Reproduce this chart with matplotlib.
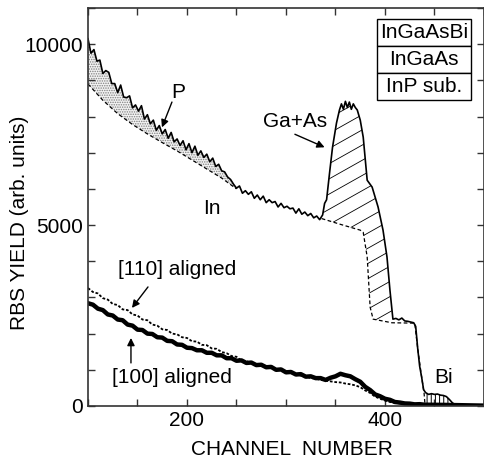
import numpy as np
import matplotlib
matplotlib.use("Agg")
import matplotlib.pyplot as plt
from matplotlib.ticker import MultipleLocator

plt.rcParams['font.family'] = ['Liberation Sans', 'DejaVu Sans']
plt.rcParams['hatch.linewidth'] = 0.7

# random spectrum (InGaAsBi / InGaAs / InP)
rand_ch = list(range(100, 338, 3)) + [
    339, 341, 344, 347, 351, 354, 356, 358, 360, 362,
    364, 366, 368, 370, 372, 375, 378, 382, 387, 393,
    398, 402, 405, 408, 411, 414, 417, 420, 423, 426,
    429, 431, 433, 435, 437, 439, 441, 444, 447, 450,
    453, 456, 459, 462, 465, 468, 471, 475, 480, 490, 500]
rand_yield = [
    10150, 9750, 9850, 9530, 9560, 9190, 9270, 9220, 8910, 8910,
    8660, 8870, 8540, 8520, 8570, 8240, 8320, 8150, 8300, 7930,
    8050, 7800, 7900, 7620, 7750, 7520, 7640, 7400, 7560, 7300,
    7380, 7200, 7330, 7080, 7250, 7000, 7180, 6930, 7050, 6870,
    6960, 6750, 6850, 6620, 6680, 6500, 6470, 6330, 6260, 6130,
    6020, 6080, 5880, 5950, 5850, 5920, 5740, 5830, 5700, 5800,
    5620, 5700, 5620, 5650, 5500, 5600, 5480, 5520, 5450, 5470,
    5330, 5450, 5300, 5360, 5260, 5320, 5200, 5250, 5150, 5280,
    5600, 5700, 6440, 7150, 7820, 8180, 8350, 8200, 8420, 8250,
    8400, 8200, 8350, 8250, 8180, 7900, 7430, 6240, 6050, 5500,
    4860, 4120, 3200, 2400, 2420, 2380, 2430, 2350, 2340, 2320,
    2300, 2200, 1600, 1100, 800, 450, 370, 320, 340, 320,
    330, 300, 290, 260, 180, 90, 30, 15, 10, 5, 0]

# simulated InP substrate edge (dashed, below P signal)
inp_ch = [100, 115, 130, 145, 160, 175, 190, 205, 220, 235, 250]
inp_yield = [8900, 8450, 8080, 7780, 7520, 7280, 7050, 6800, 6550, 6300, 6000]

# simulated InGaAs (dashed, below Ga+As and Bi)
gaas_ch = [336, 355, 375, 378, 382, 385, 388, 407, 430, 433, 437, 439.5, 440.5]
gaas_yield = [5180, 5020, 4860, 4800, 4120, 2730, 2400, 2300, 2290, 1600, 800, 350, 0]

# channeling spectra
al_ch = list(range(100, 445, 5)) + [460, 480, 500]
al100_yield = [
    2840, 2800, 2690, 2650, 2530, 2500, 2390, 2370, 2250, 2220,
    2110, 2100, 2000, 1990, 1900, 1890, 1800, 1790, 1700, 1690,
    1610, 1600, 1540, 1540, 1470, 1470, 1400, 1400, 1320, 1320,
    1250, 1260, 1190, 1200, 1130, 1140, 1070, 1080, 1000, 1010,
    930, 940, 870, 880, 810, 820, 770, 770, 720, 780,
    820, 890, 850, 820, 740, 670, 530, 440, 320, 270,
    200, 170, 110, 95, 70, 65, 45, 50, 35, 30, 20, 10]
al110_yield = [
    3260, 3150, 3110, 2980, 2940, 2820, 2790, 2670, 2650, 2530,
    2500, 2390, 2370, 2250, 2220, 2120, 2100, 2000, 1980, 1900,
    1880, 1790, 1780, 1690, 1680, 1590, 1580, 1490, 1460, 1380,
    1360, 1250, 1240, 1180, 1160, 1110, 1080, 1040, 1010, 980,
    950, 910, 880, 840, 820, 770, 760, 720, 700, 680,
    660, 650, 620, 600, 570, 520, 430, 360, 260, 200,
    150, 110, 90, 70, 60, 45, 40, 35, 30, 20, 15, 10]

legend_rows = ['InGaAsBi', 'InGaAs', 'InP sub.']

fig = plt.figure(figsize=(4.84, 4.59), dpi=100)
ax = fig.add_axes([0.1818, 0.1155, 0.8182, 0.8671])

rc = np.array(rand_ch, dtype=float)
ry = np.array(rand_yield, dtype=float)

# P signal: between random spectrum and InP edge
sel = rc <= 250
ax.fill(np.concatenate([rc[sel], inp_ch[::-1]]), np.concatenate([ry[sel], inp_yield[::-1]]),
        facecolor='#f2f2f2', edgecolor='#808080', hatch='.......', linewidth=0)

# Ga+As signal, hatched with shallow lines clipped to the area
sel = (rc >= 337) & (rc <= 408)
gapoly = ax.fill(np.concatenate([rc[sel], gaas_ch[7::-1]]), np.concatenate([ry[sel], gaas_yield[7::-1]]),
                 facecolor='none', linewidth=0)[0]
slope = 15.4
for c0 in np.arange(700, 8800, 420):
    hl, = ax.plot([330, 415], [c0 + slope * (330 - 336), c0 + slope * (415 - 336)], color='k', lw=0.6)
    hl.set_clip_path(gapoly)

# Bi signal
sel = (rc >= 440) & (rc <= 471)
ax.fill_between(rc[sel], ry[sel], 0, facecolor='none', edgecolor='k', hatch='||||', linewidth=0)

ax.plot(inp_ch, inp_yield, color='k', lw=0.9, ls=(0, (3, 2)))
ax.plot(gaas_ch, gaas_yield, color='k', lw=0.9, ls=(0, (3, 2)))
ax.plot(al_ch, al110_yield, color='k', lw=1.3, ls=(0, (1.5, 1)))
ax.plot(al_ch, al100_yield, color='k', lw=3.2)
ax.plot(rc, ry, color='k', lw=1.2)

fs = 15
ax.text(191, 8670, 'P', fontsize=fs, ha='center', va='center')
ax.text(309, 7870, 'Ga+As', fontsize=fs, ha='center', va='center')
ax.text(225, 5470, 'In', fontsize=fs, ha='center', va='center')
ax.text(190, 3760, '[110] aligned', fontsize=fs, ha='center', va='center')
ax.text(185, 800, '[100] aligned', fontsize=fs, ha='center', va='center')
ax.text(459, 800, 'Bi', fontsize=fs, ha='center', va='center')

arw = dict(arrowstyle='-|>', color='k', lw=1.0, mutation_scale=11, shrinkA=0, shrinkB=0)
ax.annotate('', xy=(174.7, 7700), xytext=(184.8, 8400), arrowprops=arw)
ax.annotate('', xy=(339, 7150), xytext=(309, 7510), arrowprops=arw)
ax.annotate('', xy=(144.4, 2710), xytext=(160.6, 3290), arrowprops=arw)
ax.annotate('', xy=(143.4, 1880), xytext=(143.4, 1190), arrowprops=arw)

tbl = ax.table(cellText=[[r] for r in legend_rows], cellLoc='center',
               bbox=[0.730, 0.769, 0.237, 0.204])
tbl.auto_set_font_size(False)
tbl.set_fontsize(fs)
for cell in tbl.get_celld().values():
    cell.set_linewidth(1.0)

ax.set_xlim(100, 500)
ax.set_ylim(0, 11000)
ax.xaxis.set_major_locator(MultipleLocator(200))
ax.xaxis.set_minor_locator(MultipleLocator(50))
ax.yaxis.set_major_locator(MultipleLocator(5000))
ax.yaxis.set_minor_locator(MultipleLocator(1000))
ax.tick_params(which='both', direction='in', top=True, right=True, length=5, width=1,
               labelsize=fs, color='#333333')
for s in ax.spines.values():
    s.set_linewidth(1.2)
    s.set_color('#333333')

ax.set_xlabel('CHANNEL  NUMBER', fontsize=fs)
ax.set_ylabel('RBS YIELD (arb. units)', fontsize=fs)
ax.xaxis.set_label_coords(0.515, -0.085)
ax.yaxis.set_label_coords(-0.15, 0.46)

fig.savefig('out.png', dpi=100)
